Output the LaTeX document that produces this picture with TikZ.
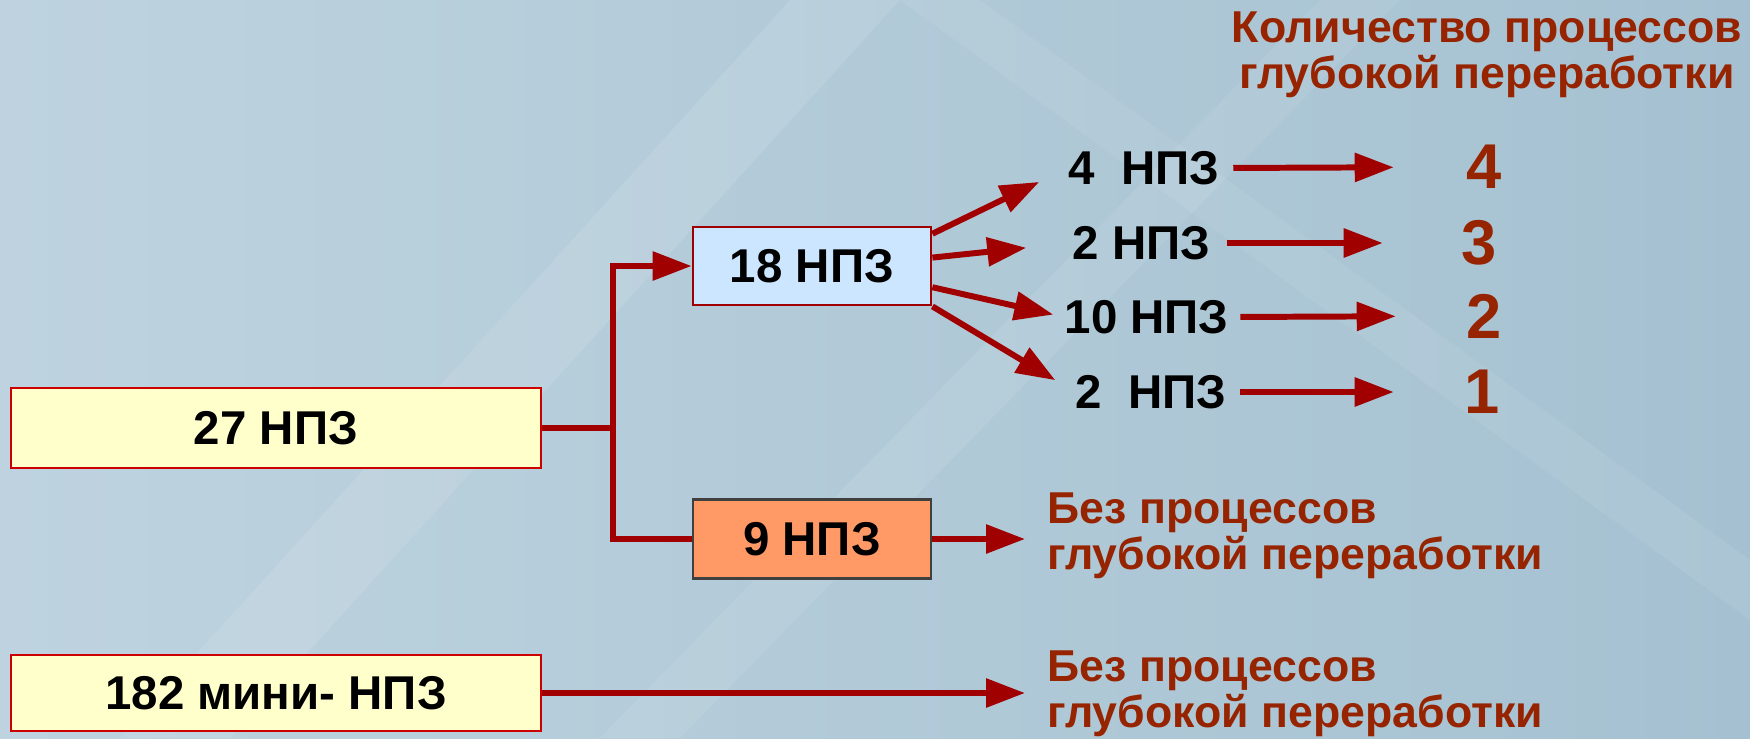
\documentclass[tikz,border=0pt]{standalone}
\usepackage{fontspec}
\setmainfont{Liberation Sans}
\usepackage{tikz}
\usetikzlibrary{arrows.meta}
\definecolor{bgleft}{RGB}{190,211,223}
\definecolor{bgright}{RGB}{165,193,209}
\definecolor{arrred}{RGB}{160,0,0}
\definecolor{txtred}{RGB}{150,36,0}
\definecolor{boxyellow}{RGB}{255,255,204}
\definecolor{boxblue}{RGB}{204,230,255}
\definecolor{boxorange}{RGB}{255,153,102}
\tikzset{
>={Triangle[length=3.9mm,width=2.8mm]},
  npzbox/.style={
    rectangle,
    draw=red!80!black, line width=0.8pt,
    font=\fontsize{13.5}{16}\selectfont\bfseries,
    text centered,
    inner sep=0pt},
  npzlabel/.style={
    font=\fontsize{13.5}{16}\selectfont\bfseries,
    inner sep=0pt, anchor=west},
  count/.style={
    font=\fontsize{18}{20}\selectfont\bfseries,
    text=txtred, inner sep=0pt},
  note/.style={
    font=\fontsize{12.7}{11.2}\selectfont\bfseries,
    text=txtred, inner sep=0pt, align=left},
  line/.style={draw=arrred, line width=1.7pt},
  pil/.style={->, draw=arrred, line width=1.7pt},
}
\begin{document}
\begin{tikzpicture}[x=0.1mm, y=-0.1mm]
    % background
    \useasboundingbox (0,0) rectangle (1750,738);
    \fill[left color=bgleft, right color=bgright] (0,0) rectangle (1750,738);
    \fill[white, opacity=.10] (120,738) -- (230,738) -- (900,0) -- (790,0) -- cycle;
    \fill[white, opacity=.08] (600,738) -- (680,738) -- (1400,0) -- (1320,0) -- cycle;
    \fill[white, opacity=.07] (900,0) -- (980,0) -- (1750,560) -- (1750,620) -- cycle;

    % left column
    \node[npzbox, fill=boxyellow, minimum width=53mm, minimum height=8mm] (np27) at (276,428) {27 НПЗ};
    \node[npzbox, fill=boxyellow, minimum width=53mm, minimum height=7.6mm] (mini) at (276,693) {182 мини- НПЗ};

    % split
    \node[npzbox, fill=boxblue, draw=arrred, minimum width=23.8mm, minimum height=7.8mm] (np18) at (812,266) {18 НПЗ};
    \node[npzbox, fill=boxorange, draw=black!75, minimum width=23.8mm, minimum height=7.9mm] (np9) at (812,539) {9 НПЗ};
    \coordinate (split) at (613,428);
    \draw[line] (np27.east) -- (split);
    \draw[pil] (split) |- (np18.west);
    \draw[line] (split) |- (np9.west);

    % groups of 18
    \node[npzlabel] (l4) at (1068,168) {4~~НПЗ};
    \node[npzlabel] (l3) at (1072,243) {2 НПЗ};
    \node[npzlabel] (l2) at (1064,317) {10 НПЗ};
    \node[npzlabel] (l1) at (1075,392) {2~~НПЗ};
    \draw[pil, shorten >=3.2mm] (np18.15) -- (l4.west);
    \draw[pil, shorten >=4.6mm] (np18.4) -- (l3.west);
    \draw[pil, shorten >=1.1mm] (np18.-10) -- (l2.west);
    \draw[pil, shorten >=2.3mm] (np18.south east) -- (l1.west);

    % number of processes
    \node[note, align=center] (head) at (1487,55) {Количество процессов\\глубокой переработки};
    \node[count] (n4) at (1484,167) {4};
    \node[count] (n3) at (1479,243) {3};
    \node[count] (n2) at (1484,316) {2};
    \node[count] (n1) at (1482,392) {1};
    \draw[pil, shorten <=1.3mm, shorten >=7.2mm] (l4.east) -- (n4.west);
    \draw[pil, shorten <=1.6mm, shorten >=7.8mm] (l3.east) -- (n3.west);
    \draw[pil, shorten <=1.1mm, shorten >=7.0mm] (l2.east) -- (n2.west);
    \draw[pil, shorten <=1.3mm, shorten >=7.0mm] (l1.east) -- (n1.west);

    % without deep processing
    \node[note, anchor=west] (bez1) at (1047,536) {Без процессов\\глубокой переработки};
    \node[note, anchor=west] (bez2) at (1047,694) {Без процессов\\глубокой переработки};
    \draw[pil, shorten >=2.2mm] (np9.east) -- (np9.east -| bez1.west);
    \draw[pil, shorten >=2.2mm] (mini.east) -- (mini.east -| bez2.west);
\end{tikzpicture}
\end{document}
